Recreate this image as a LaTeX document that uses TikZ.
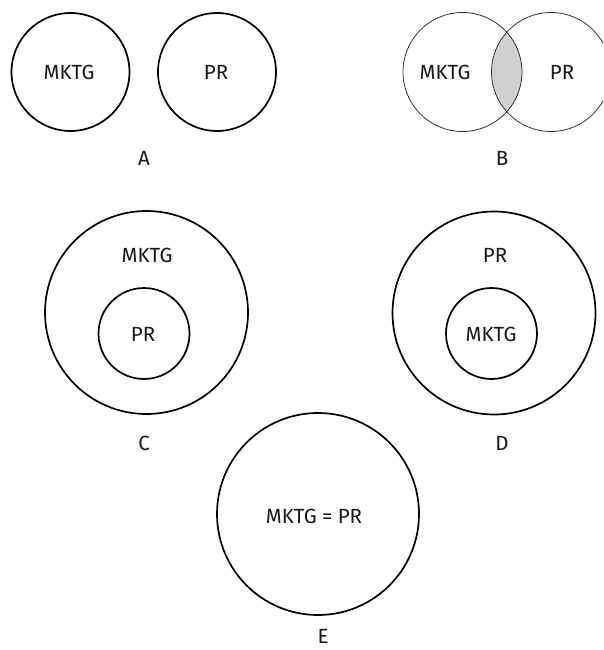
\documentclass[tikz,border=0pt]{standalone}
\usepackage{fontspec}
\setmainfont{Fira Sans}
\begin{document}
\begin{tikzpicture}[x=1pt,y=-1pt,
  ring/.style={circle,draw=black,line width=1.7pt,inner sep=0pt,fill=none},
  thinring/.style={circle,draw=black!80,line width=0.8pt,inner sep=0pt},
  lbl/.style={font=\fontsize{20.5}{22}\selectfont,text=black!90,inner sep=0pt},
  captxt/.style={font=\fontsize{20.5}{22}\selectfont,text=black!90,inner sep=0pt}]
\clip (0,0) rectangle (603,650);
\fill[white] (0,0) rectangle (603,650);
% A
\node[ring,minimum size=118pt] (a1) at (70.5,72) {};
\node[ring,minimum size=118pt] (a2) at (217,72) {};
\node[lbl] (a1t) at (69,72) {MKTG};
\node[lbl] (a2t) at (216,72) {PR};
\node[captxt] (capA) at (144,158) {A};
% B
\begin{scope}
  \clip (462.5,72) circle (59.5);
  \fill[black!18] (551,72) circle (59.5);
\end{scope}
\node[thinring,minimum size=119pt] (b1) at (462.5,72) {};
\node[thinring,minimum size=119pt] (b2) at (551,72) {};
\node[lbl] (b1t) at (445,72) {MKTG};
\node[lbl] (b2t) at (562,72) {PR};
\node[captxt] (capB) at (502,158) {B};
% C
\node[ring,minimum size=203pt] (c1) at (146.5,312.5) {};
\node[ring,minimum size=91pt] (c2) at (144,333.5) {};
\node[lbl] (c1t) at (147,255) {MKTG};
\node[lbl] (c2t) at (143,334) {PR};
\node[captxt] (capC) at (144,443) {C};
% D
\node[ring,minimum size=203pt] (d1) at (494,313) {};
\node[ring,minimum size=91pt] (d2) at (491.5,333.5) {};
\node[lbl] (d1t) at (495,255) {PR};
\node[lbl] (d2t) at (491,334) {MKTG};
\node[captxt] (capD) at (502,443) {D};
% E
\node[ring,minimum size=202pt] (e1) at (318,514) {};
\node[lbl] (e1t) at (314,516) {MKTG = PR};
\node[captxt] (capE) at (323,636) {E};
\end{tikzpicture}
\end{document}
